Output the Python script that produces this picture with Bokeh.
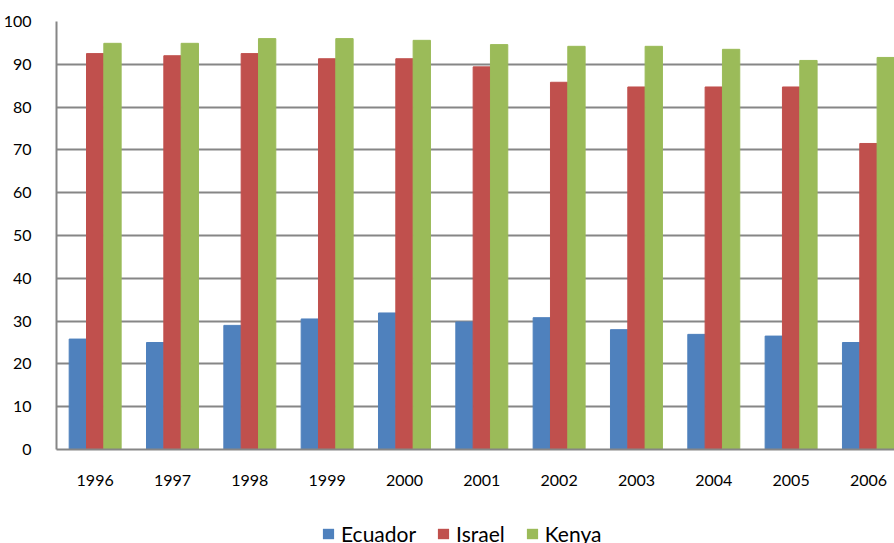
import numpy as np
from bokeh.plotting import figure
from bokeh.layouts import column
from bokeh.models import (ColumnDataSource, FixedTicker, Range1d, Legend, LegendItem)
from bokeh.transform import dodge
from bokeh.embed import file_html
from bokeh.resources import INLINE

years = ["1996", "1997", "1998", "1999", "2000", "2001", "2002", "2003", "2004", "2005", "2006"]
ecuador = [25.8, 25.0, 29.0, 30.5, 31.9, 29.8, 30.8, 28.0, 26.9, 26.5, 25.0]
israel = [92.5, 92.0, 92.5, 91.3, 91.3, 89.4, 85.8, 84.7, 84.7, 84.7, 71.5]
kenya = [94.9, 94.9, 96.0, 96.0, 95.6, 94.6, 94.2, 94.2, 93.5, 90.9, 91.6]
series = ["Ecuador", "Israel", "Kenya"]
colors = ["#4F81BD", "#C0504D", "#9BBB59"]
y_ticks = [0, 10, 20, 30, 40, 50, 60, 70, 80, 90, 100]

FONT = "Lato"
BAR_W = 0.224
GRID = "#868686"

centers = np.arange(len(years)) + 0.5
src = ColumnDataSource(dict(x=centers, Ecuador=ecuador, Israel=israel, Kenya=kenya))

p = figure(width=894, height=513, output_backend="svg", toolbar_location=None,
           x_range=Range1d(0, 10.837), y_range=Range1d(0, 100),
           min_border_left=56, min_border_right=0, min_border_top=21,
           min_border_bottom=64)
p.outline_line_color = None

for name, color, off in zip(series, colors, [-BAR_W, 0.0, BAR_W]):
    p.vbar(x=dodge("x", off, range=p.x_range), top=name, width=BAR_W,
           source=src, fill_color=color, line_color=color)

# axes
p.xaxis.ticker = FixedTicker(ticks=list(centers))
p.xaxis.major_label_overrides = {float(c): y for c, y in zip(centers, years)}
p.xaxis.major_tick_line_color = None
p.xaxis.minor_tick_line_color = None
p.xaxis.axis_line_color = GRID
p.xaxis.axis_line_width = 2
p.xaxis.major_label_standoff = 19
p.xaxis.major_label_text_font = FONT
p.xaxis.major_label_text_font_size = "16px"
p.xaxis.major_label_text_color = "#000000"

p.yaxis.ticker = FixedTicker(ticks=y_ticks)
p.yaxis.major_tick_line_color = None
p.yaxis.minor_tick_line_color = None
p.yaxis.axis_line_color = GRID
p.yaxis.axis_line_width = 2
p.yaxis.major_label_standoff = 19
p.yaxis.major_label_text_font = FONT
p.yaxis.major_label_text_font_size = "16px"
p.yaxis.major_label_text_color = "#000000"

p.xgrid.grid_line_color = None
p.ygrid.grid_line_color = GRID
p.ygrid.grid_line_width = 2

# legend strip underneath the chart (its frame lines up with the chart frame);
# the bars it refers to sit outside its visible ranges
leg_fig = figure(width=894, height=30, output_backend="svg", toolbar_location=None,
                 x_range=Range1d(-40, -30), y_range=Range1d(-200, -150),
                 min_border=0, min_border_left=56, min_border_right=0,
                 min_border_top=0, min_border_bottom=0)
leg_fig.axis.visible = False
leg_fig.grid.visible = False
leg_fig.outline_line_color = None

items = []
for name, color in zip(series, colors):
    r = leg_fig.vbar(x="x", top=name, width=BAR_W, source=src,
                     fill_color=color, line_color=None)
    items.append(LegendItem(label=name, renderers=[r]))

legend = Legend(items=items, orientation="horizontal", location=(265, -3),
                glyph_width=14, glyph_height=13, label_standoff=6, spacing=20,
                label_text_font=FONT, label_text_font_size="21px",
                label_text_color="#000000",
                label_height=13, border_line_color=None, padding=0, margin=0,
                background_fill_alpha=0)
leg_fig.add_layout(legend, "center")

layout = column(p, leg_fig, spacing=0)
open("out.html", "w").write(file_html(layout, INLINE))
